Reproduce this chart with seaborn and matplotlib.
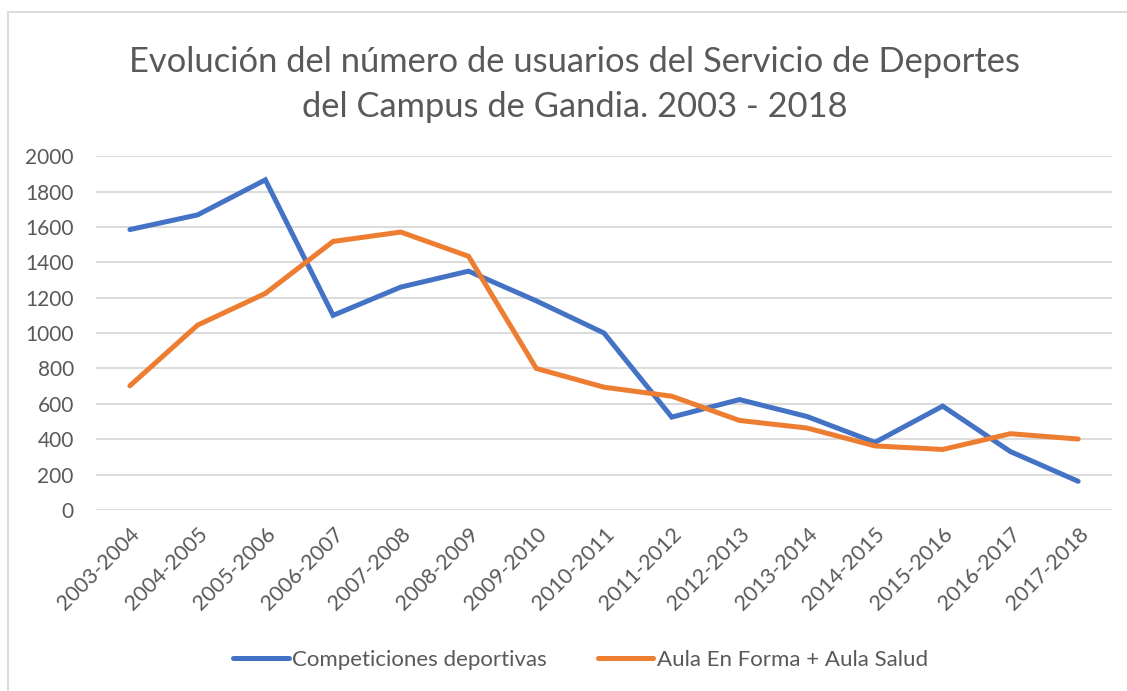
import seaborn as sns
import pandas as pd
import matplotlib.pyplot as plt
from matplotlib.lines import Line2D

seasons = ['2003-2004', '2004-2005', '2005-2006', '2006-2007', '2007-2008',
           '2008-2009', '2009-2010', '2010-2011', '2011-2012', '2012-2013',
           '2013-2014', '2014-2015', '2015-2016', '2016-2017', '2017-2018']
competiciones = [1585, 1668, 1866, 1100, 1260, 1350, 1182, 1000, 525, 624,
                 528, 382, 587, 330, 162]
aula = [702, 1045, 1224, 1518, 1571, 1434, 800, 694, 643, 506,
        463, 362, 342, 431, 401]

names = ['Competiciones deportivas', 'Aula En Forma + Aula Salud']
colors = ['#4472C4', '#ED7D31']
title = 'Evolución del número de usuarios del Servicio de Deportes\ndel Campus de Gandia. 2003 - 2018'

df = pd.DataFrame({'Temporada': seasons, names[0]: competiciones, names[1]: aula})
long_df = df.melt(id_vars='Temporada', var_name='Serie', value_name='Usuarios')

sns.set_style('white')
plt.rcParams['font.family'] = ['Lato', 'DejaVu Sans']
text_color = '#595959'

fig = plt.figure(figsize=(11.27, 6.91), dpi=100)
ax = fig.add_axes([0.0852, 0.262, 0.9015, 0.512])

sns.lineplot(data=long_df, x='Temporada', y='Usuarios', hue='Serie',
             palette=colors, linewidth=3.6, sort=False, legend=False, ax=ax)
for line in ax.lines:
    line.set_solid_capstyle('round')
    line.set_solid_joinstyle('miter')

ax.set_xlim(-0.5, len(seasons) - 0.5)
ax.set_ylim(0, 2000)
ax.set_yticks(range(0, 2001, 200))
ax.grid(axis='y', color='#D9D9D9', linewidth=1.3)
ax.set_axisbelow(True)
for s in ax.spines.values():
    s.set_visible(False)
ax.set_xlabel('')
ax.set_ylabel('')
ax.tick_params(axis='both', length=0, labelcolor=text_color)
ax.tick_params(axis='y', pad=16, labelsize=15)
ax.tick_params(axis='x', pad=10, labelsize=15.5)
ax.set_xticks(range(len(seasons)))
ax.set_xticklabels(seasons, rotation=45, ha='right', rotation_mode='anchor')

fig.text(0.51, 0.877, title, ha='center', va='center', fontsize=24.8,
         color=text_color, linespacing=1.5)

handles = [Line2D([0], [0], color=c, linewidth=3.6, solid_capstyle='round')
           for c in colors]
fig.legend(handles, names, loc='center', bbox_to_anchor=(0.515, 0.045), ncol=2,
           frameon=False, fontsize=16, labelcolor=text_color,
           handlelength=2.5, handletextpad=0.15, columnspacing=2.3)

# light frame like the chart area border
fig.add_artist(plt.Rectangle((0.007, -0.05), 1.05, 1.033, transform=fig.transFigure,
                             fill=False, edgecolor='#D9D9D9', linewidth=1.3))

fig.savefig('out.png', dpi=100)
